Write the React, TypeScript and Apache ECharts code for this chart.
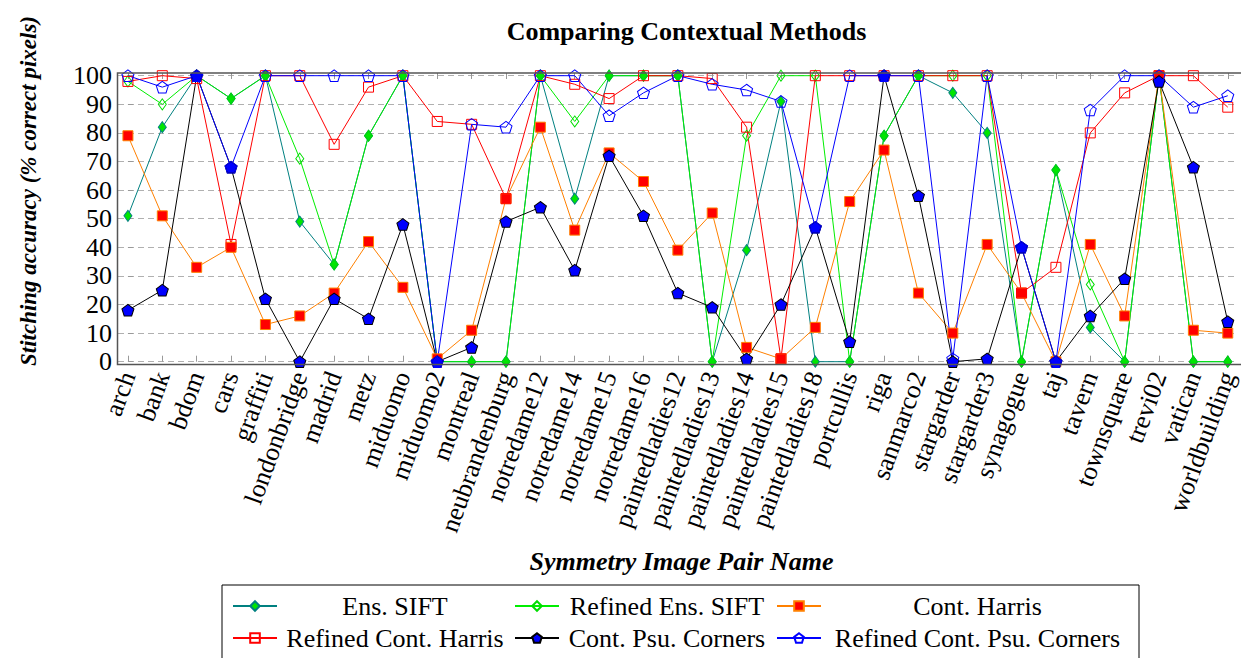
import React, { useEffect, useRef } from 'react';
import * as echarts from 'echarts';

const categories = ['arch','bank','bdom','cars','graffiti','londonbridge','madrid','metz','miduomo','miduomo2','montreal','neubrandenburg','notredame12','notredame14','notredame15','notredame16','paintedladies12','paintedladies13','paintedladies14','paintedladies15','paintedladies18','portcullis','riga','sanmarco2','stargarder','stargarder3','synagogue','taj','tavern','townsquare','trevi02','vatican','worldbuilding'];

const ensSift = [51,82,100,92,100,49,34,79,100,0,0,0,100,57,100,100,100,0,39,91,0,0,79,100,94,80,0,67,12,0,100,0,0];
const refinedEnsSift = [98,90,100,92,100,71,34,79,100,0,0,0,100,84,100,100,100,0,79,100,100,0,79,100,100,100,0,67,27,0,100,0,0];
const contHarris = [79,51,33,40,13,16,24,42,26,1,11,57,82,46,73,63,39,52,5,1,12,56,74,24,10,41,24,0,41,16,100,11,10];
const refinedContHarris = [98,100,99,41,100,100,76,96,100,84,83,57,100,97,92,100,100,99,82,1,100,100,100,100,100,100,24,33,80,94,100,100,89];
const contPsu = [18,25,100,68,22,0,22,15,48,0,5,49,54,32,72,51,24,19,1,20,47,7,100,58,0,1,40,0,16,29,98,68,14];
const refinedContPsu = [100,96,100,68,100,100,100,100,100,0,83,82,100,100,86,94,100,97,95,91,47,100,100,100,1,100,40,0,88,100,100,89,93];

const yTicks = [0,10,20,30,40,50,60,70,80,90,100];

const FONT = '"Liberation Serif", "Times New Roman", serif';
const PENTAGON = 'path://M0 -100 L95.1 -30.9 L58.8 80.9 L-58.8 80.9 L-95.1 -30.9 Z';
const HOLLOW = 'rgba(255,255,255,0)';

const seriesDefs = [
  { name: 'Ens. SIFT', data: ensSift, line: '#008080', symbol: 'diamond', size: [8, 11], fill: '#00e600', border: '#008080', col: 0 },
  { name: 'Refined Ens. SIFT', data: refinedEnsSift, line: '#00ee00', symbol: 'diamond', size: [8, 11], fill: HOLLOW, border: '#00dd00', col: 1 },
  { name: 'Cont. Harris', data: contHarris, line: '#ff8000', symbol: 'rect', size: [10, 10], fill: '#ff0000', border: '#ff8000', col: 2 },
  { name: 'Refined Cont. Harris', data: refinedContHarris, line: '#ff0000', symbol: 'rect', size: [10, 10], fill: HOLLOW, border: '#ff0000', col: 0 },
  { name: 'Cont. Psu. Corners', data: contPsu, line: '#000000', symbol: PENTAGON, size: [12, 11.5], fill: '#0000ff', border: '#000000', col: 1 },
  { name: 'Refined Cont. Psu. Corners', data: refinedContPsu, line: '#0000ff', symbol: PENTAGON, size: [12, 11.5], fill: HOLLOW, border: '#0000ff', col: 2 },
];

const GRID_LEFT = 118;
const GRID_TOP = 75.7;
const GRID_W = 1127;
const GRID_H = 286;
const X_MIN = -0.289;
const X_MAX = 32.289;

export default function App() {
  const ref = useRef<HTMLDivElement>(null);
  useEffect(() => {
    if (!ref.current) return;
    const chart = echarts.init(ref.current, null, { renderer: 'svg' });
    const idx = categories.map((_, i) => i);
    const option: any = {
      animation: false,
      backgroundColor: '#fff',
      title: {
        text: 'Comparing Contextual Methods',
        left: GRID_LEFT + GRID_W / 2,
        top: 13,
        textAlign: 'center',
        textStyle: { fontFamily: FONT, fontWeight: 'bold', fontSize: 26, color: '#000' },
      },
      grid: { left: GRID_LEFT, top: GRID_TOP, width: GRID_W, height: GRID_H, containLabel: false },
      xAxis: [
        {
          type: 'value', min: X_MIN, max: X_MAX, position: 'bottom', offset: 3,
          axisLine: { show: false },
          splitLine: { show: false },
          axisTick: { show: true, inside: true, length: 6, customValues: idx, lineStyle: { color: '#999' } },
          axisLabel: {
            customValues: idx, rotate: 70, margin: 8,
            formatter: (v: number) => categories[Math.round(v)] ?? '',
            fontFamily: FONT, fontSize: 26, color: '#000',
          },
        },
        {
          type: 'value', min: X_MIN, max: X_MAX, position: 'top', offset: 2.7,
          axisLine: { show: false }, splitLine: { show: false },
          axisTick: { show: true, inside: true, length: 6, customValues: idx, lineStyle: { color: '#999' } },
          axisLabel: { show: false },
        },
      ],
      yAxis: {
        type: 'value', min: 0, max: 100, interval: 10,
        axisLine: { show: false },
        axisTick: { show: true, inside: true, length: 5, lineStyle: { color: '#999' } },
        axisLabel: { margin: 6, fontFamily: FONT, fontSize: 26, color: '#000', customValues: yTicks },
        splitLine: { show: true, lineStyle: { color: '#b0b0b0', type: [6, 4], width: 1 } },
      },
      legend: {
        left: 222, top: 585, width: 940,
        orient: 'horizontal',
        itemGap: 6, itemWidth: 44, itemHeight: 12,
        padding: [8, 10, 8, 10],
        borderColor: '#000', borderWidth: 1,
        selectedMode: false,
        data: seriesDefs.map((s) => s.name),
        formatter: (name: string) => {
          const d = seriesDefs.find((s) => s.name === name);
          return `{c${d ? d.col : 0}|${name}}`;
        },
        textStyle: {
          fontFamily: FONT, fontSize: 26, color: '#000',
          rich: {
            c0: { width: 226, align: 'center', fontFamily: FONT, fontSize: 26, lineHeight: 26 },
            c1: { width: 206, align: 'center', fontFamily: FONT, fontSize: 26, lineHeight: 26 },
            c2: { width: 303, align: 'center', fontFamily: FONT, fontSize: 26, lineHeight: 26 },
          },
        },
      },
      graphic: [
        {
          type: 'rect', silent: true, z: 100,
          shape: { x: GRID_LEFT - 0.5, y: 73, width: GRID_W, height: 291.5 },
          style: { fill: 'none', stroke: '#555', lineWidth: 1.5 },
        },
        {
          type: 'text', x: 28, y: 191, rotation: Math.PI / 2,
          style: {
            text: 'Stitching accuracy (% correct pixels)', align: 'center', verticalAlign: 'middle',
            fontFamily: FONT, fontSize: 23, fontWeight: 'bold', fontStyle: 'italic', fill: '#000',
          },
        },
        {
          type: 'text', x: GRID_LEFT + GRID_W / 2, y: 561,
          style: {
            text: 'Symmetry Image Pair Name', align: 'center', verticalAlign: 'middle',
            fontFamily: FONT, fontSize: 26, fontWeight: 'bold', fontStyle: 'italic', fill: '#000',
          },
        },
      ],
      series: seriesDefs.map((s) => ({
        name: s.name,
        type: 'line',
        xAxisIndex: 0,
        data: s.data.map((v, i) => [i, v]),
        symbol: s.symbol,
        symbolSize: s.size,
        showAllSymbol: true,
        clip: false,
        lineStyle: { color: s.line, width: 1 },
        itemStyle: { color: s.fill, borderColor: s.border, borderWidth: 1 },
        emphasis: { disabled: true },
      })),
    };
    chart.setOption(option);
    return () => chart.dispose();
  }, []);
  return (
    <div
      ref={ref}
      style={{ position: 'fixed', left: 0, top: 0, width: 1241, height: 658, background: '#fff' }}
    />
  );
}
